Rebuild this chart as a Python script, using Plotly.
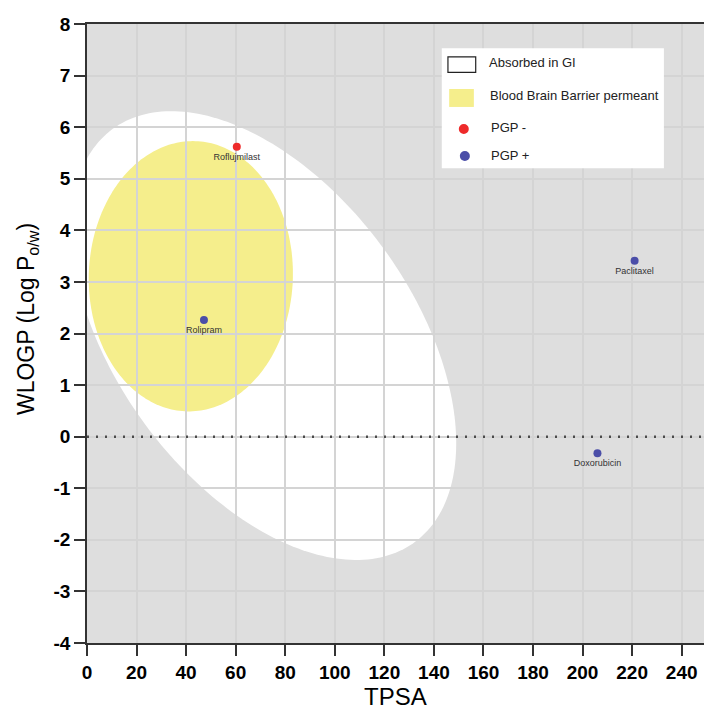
import numpy as np
import plotly.graph_objects as go

# ---- data ----
compounds = ["Roflujmilast", "Rolipram", "Paclitaxel", "Doxorubicin"]
tpsa = [60.45, 47.2, 221.0, 206.0]
wlogp = [5.62, 2.26, 3.41, -0.32]
pgp = ["-", "+", "+", "+"]

# ellipse parameters (center x, center y, half-width x, half-height y, skew)
gi_ellipse = dict(cx=71.3, cy=1.96, rx=77.7, ry=4.35, rho=-0.48)
bbb_ellipse = dict(cx=41.9, cy=3.11, rx=41.2, ry=2.62, rho=0.02)

x_ticks = list(range(0, 241, 20))
y_ticks = list(range(-4, 9, 1))
x_ticktext = [f"<b>{v}</b>" for v in x_ticks]
y_ticktext = [f"<b>{v}</b>" for v in y_ticks]  # plain hyphen minus


def ellipse_path(cx, cy, rx, ry, rho, n=240):
    t = np.linspace(0, 2 * np.pi, n)
    x = cx + rx * np.cos(t)
    y = cy + ry * (rho * np.cos(t) + np.sqrt(1 - rho ** 2) * np.sin(t))
    pts = [f"{a:.4f},{b:.4f}" for a, b in zip(x, y)]
    return "M " + " L ".join(pts) + " Z"


FONT = "Liberation Sans, Arial, sans-serif"
fig = go.Figure()

fig.add_shape(type="path", path=ellipse_path(**gi_ellipse), xref="x", yref="y",
              fillcolor="white", line=dict(width=0), layer="below")
fig.add_shape(type="path", path=ellipse_path(**bbb_ellipse), xref="x", yref="y",
              fillcolor="#f5ee8c", line=dict(width=0), layer="below")

# dotted zero line
fig.add_trace(go.Scatter(x=[0, 249], y=[0, 0], mode="lines",
                         line=dict(color="#4a4a4a", width=2.5, dash="2px,7px"),
                         hoverinfo="skip", showlegend=False))

colors = ["#ee2a2a" if p == "-" else "#4b4ea8" for p in pgp]
fig.add_trace(go.Scatter(x=tpsa, y=wlogp, mode="markers+text", text=compounds,
                         textposition="bottom center",
                         textfont=dict(family=FONT, size=9, color="#333333"),
                         marker=dict(color=colors, size=8), showlegend=False))

# ---- legend (manual) ----
fig.add_shape(type="rect", xref="paper", yref="paper", x0=0.575, x1=0.935, y0=0.767, y1=0.961,
              fillcolor="white", line=dict(width=0), layer="above")
fig.add_shape(type="rect", xref="paper", yref="paper", x0=0.585, x1=0.630, y0=0.922, y1=0.947,
              fillcolor="white", line=dict(width=1.2, color="#222222"), layer="above")
fig.add_shape(type="rect", xref="paper", yref="paper", x0=0.587, x1=0.627, y0=0.866, y1=0.895,
              fillcolor="#f5ee8c", line=dict(width=0), layer="above")
fig.add_shape(type="circle", xref="paper", yref="paper", x0=0.6026, x1=0.6188, y0=0.8223, y1=0.8385,
              fillcolor="#ee2a2a", line=dict(width=0), layer="above")
fig.add_shape(type="circle", xref="paper", yref="paper", x0=0.6043, x1=0.6205, y0=0.7787, y1=0.7949,
              fillcolor="#4b4ea8", line=dict(width=0), layer="above")
legend_texts = [("Absorbed in GI", 0.6483, 0.937), ("Blood Brain Barrier permeant", 0.650, 0.885),
                ("PGP -", 0.651, 0.832), ("PGP +", 0.651, 0.788)]
for txt, lx, ly in legend_texts:
    fig.add_annotation(text=txt, xref="paper", yref="paper", x=lx, y=ly, xanchor="left",
                       yanchor="middle", showarrow=False,
                       font=dict(family=FONT, size=13, color="#222222"))

# axis titles
fig.add_annotation(text="TPSA", xref="paper", yref="paper", x=0.4994, y=-0.086,
                   xanchor="center", yanchor="middle", showarrow=False,
                   font=dict(family=FONT, size=24, color="black"))
fig.add_annotation(text="WLOGP (Log P<sub>o/w</sub>)", xref="paper", yref="paper",
                   x=-0.0972, y=0.5234, xanchor="center", yanchor="middle", textangle=-90,
                   showarrow=False, font=dict(family=FONT, size=23, color="black"))

axis_common = dict(showline=True, linecolor="#333333", linewidth=1.5, ticks="outside",
                   ticklen=11, tickwidth=1.5, tickcolor="#333333", gridcolor="#d4d4d4",
                   gridwidth=1.5, zeroline=False, automargin=False,
                   tickfont=dict(family=FONT, size=19, color="black", weight=700))

fig.update_xaxes(range=[0, 249], tickvals=x_ticks, ticktext=x_ticktext, mirror=True,
                 **axis_common)
fig.update_yaxes(range=[-4, 8], tickvals=y_ticks, ticktext=y_ticktext, **axis_common)

fig.update_layout(width=704, height=717, margin=dict(l=87, r=0, t=24, b=74, autoexpand=False),
                  plot_bgcolor="#dedede", paper_bgcolor="white", showlegend=False)

fig.write_html("out.html", config={"displayModeBar": False},
               post_script="document.body.style.margin='0';document.body.style.overflow='hidden';")
